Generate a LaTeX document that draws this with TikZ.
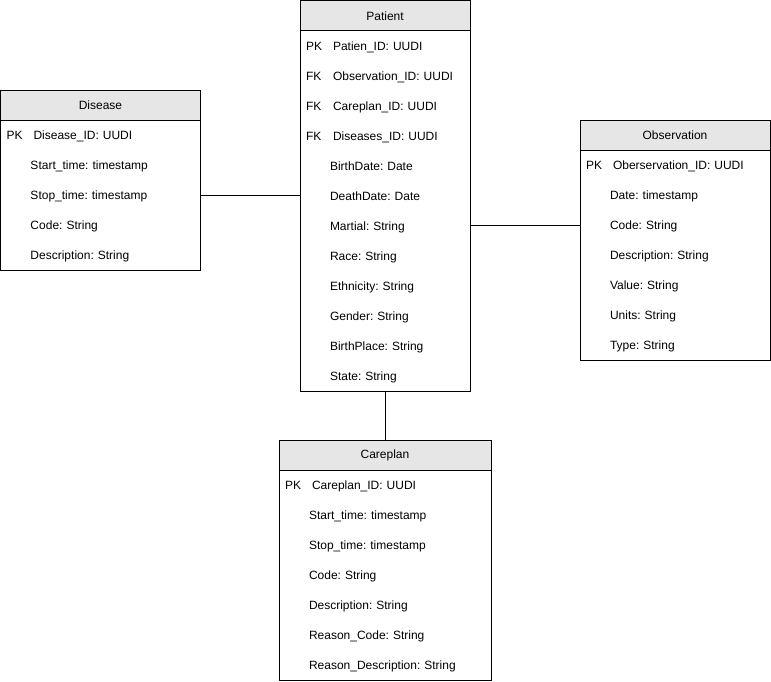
\documentclass[tikz,border=0pt]{standalone}
\usepackage{fontspec}
\setmainfont{Liberation Sans}
\usepackage{tikz}
\usetikzlibrary{positioning}
\definecolor{headgray}{HTML}{E6E6E6}
\newcommand{\keycol}[1]{\makebox[27pt][l]{#1}}
\newcommand{\nokey}{\hspace*{24pt}}
\frenchspacing

\begin{document}
\begin{tikzpicture}[
    x=1pt, y=-1pt,
    node distance=30pt,
    on grid,
    every node/.style={font=\fontsize{12}{14}\selectfont},
    entity/.style={draw, line width=1pt, anchor=north, inner sep=0pt},
    head/.style={entity, fill=headgray, minimum height=30pt},
    field/.style={inner xsep=6pt, inner ysep=0pt, align=left, text width=#1,
        text height=10.86pt, text depth=2.54pt}
]
    \useasboundingbox (0,0) rectangle (771,682);

    % Tables
    \node[entity, minimum width=170pt, minimum height=390pt] (patient) at (385,0.5) {};
    \node[head, minimum width=170pt] (patientHead) at (385,0.5) {Patient};
    \node[entity, minimum width=200pt, minimum height=180pt] (disease) at (100.5,90) {};
    \node[head, minimum width=200pt] (diseaseHead) at (100.5,90) {Disease};
    \node[entity, minimum width=190pt, minimum height=240pt] (observation) at (675,120) {};
    \node[head, minimum width=190pt] (observationHead) at (675,120) {Observation};
    \node[entity, minimum width=212pt, minimum height=240pt] (careplan) at (385,440) {};
    \node[head, minimum width=212pt] (careplanHead) at (385,440) {Careplan};

    % Patient fields
    \node[field=158pt, below=of patientHead] (pId) {\keycol{PK}Patien\_ID: UUDI};
    \node[field=158pt, below=of pId] (pObs) {\keycol{FK}Observation\_ID: UUDI};
    \node[field=158pt, below=of pObs] (pCare) {\keycol{FK}Careplan\_ID: UUDI};
    \node[field=158pt, below=of pCare] (pDis) {\keycol{FK}Diseases\_ID: UUDI};
    \node[field=158pt, below=of pDis] (pBirth) {\nokey BirthDate: Date};
    \node[field=158pt, below=of pBirth] (pDeath) {\nokey DeathDate: Date};
    \node[field=158pt, below=of pDeath] (pMartial) {\nokey Martial: String};
    \node[field=158pt, below=of pMartial] (pRace) {\nokey Race: String};
    \node[field=158pt, below=of pRace] (pEthn) {\nokey Ethnicity: String};
    \node[field=158pt, below=of pEthn] (pGender) {\nokey Gender: String};
    \node[field=158pt, below=of pGender] (pPlace) {\nokey BirthPlace: String};
    \node[field=158pt, below=of pPlace] (pState) {\nokey State: String};

    % Disease fields
    \node[field=188pt, below=of diseaseHead] (dId) {\keycol{PK}Disease\_ID: UUDI};
    \node[field=188pt, below=of dId] (dStart) {\nokey Start\_time: timestamp};
    \node[field=188pt, below=of dStart] (dStop) {\nokey Stop\_time: timestamp};
    \node[field=188pt, below=of dStop] (dCode) {\nokey Code: String};
    \node[field=188pt, below=of dCode] (dDesc) {\nokey Description: String};

    % Observation fields
    \node[field=178pt, below=of observationHead] (oId) {\keycol{PK}Oberservation\_ID: UUDI};
    \node[field=178pt, below=of oId] (oDate) {\nokey Date: timestamp};
    \node[field=178pt, below=of oDate] (oCode) {\nokey Code: String};
    \node[field=178pt, below=of oCode] (oDesc) {\nokey Description: String};
    \node[field=178pt, below=of oDesc] (oValue) {\nokey Value: String};
    \node[field=178pt, below=of oValue] (oUnits) {\nokey Units: String};
    \node[field=178pt, below=of oUnits] (oType) {\nokey Type: String};

    % Careplan fields
    \node[field=200pt, below=of careplanHead] (cId) {\keycol{PK}Careplan\_ID: UUDI};
    \node[field=200pt, below=of cId] (cStart) {\nokey Start\_time: timestamp};
    \node[field=200pt, below=of cStart] (cStop) {\nokey Stop\_time: timestamp};
    \node[field=200pt, below=of cStop] (cCode) {\nokey Code: String};
    \node[field=200pt, below=of cCode] (cDesc) {\nokey Description: String};
    \node[field=200pt, below=of cDesc] (cReason) {\nokey Reason\_Code: String};
    \node[field=200pt, below=of cReason] (cReasonDesc) {\nokey Reason\_Description: String};

    % Relations
    \draw[line width=1pt]
        (disease.east |- dStop) -- (patient.west |- dStop)
        (patient.east |- oCode) -- (observation.west |- oCode)
        (patient.south) -- (careplanHead.north);
\end{tikzpicture}
\end{document}
